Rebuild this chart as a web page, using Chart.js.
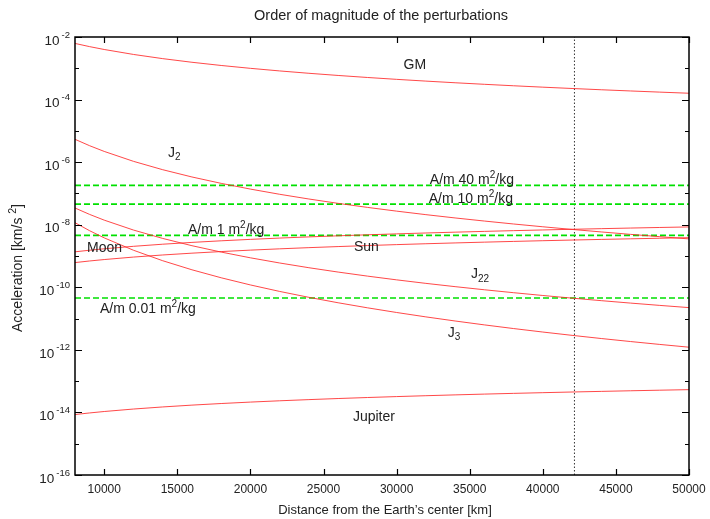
<!DOCTYPE html>
<html>
<head>
<meta charset="utf-8">
<script src="https://cdn.jsdelivr.net/npm/chart.js@4/dist/chart.umd.min.js"></script>
<style>
  html, body { margin: 0; padding: 0; background: #fff; }
  #c { display: block; }
</style>
</head>
<body>
<canvas id="c" width="710" height="519"></canvas>
<script>
// ---- Data ----
const distanceKm = [8000, 9000, 10000, 12000, 14000, 16000, 18000, 20000, 22000, 24000, 26000,
  28000, 30000, 32000, 34000, 36000, 38000, 40000, 42000, 44000, 46000, 48000, 50000];

const accGM = [6.228e-3, 4.921e-3, 3.986e-3, 2.768e-3, 2.034e-3, 1.557e-3, 1.230e-3, 9.965e-4, 8.236e-4,
  6.920e-4, 5.896e-4, 5.084e-4, 4.429e-4, 3.893e-4, 3.448e-4, 3.076e-4, 2.760e-4, 2.491e-4, 2.260e-4,
  2.059e-4, 1.884e-4, 1.730e-4, 1.594e-4];

const accJ2 = [5.37e-6, 3.353e-6, 2.2e-6, 1.061e-6, 5.727e-7, 3.357e-7, 2.096e-7, 1.375e-7, 9.391e-8,
  6.631e-8, 4.814e-8, 3.579e-8, 2.716e-8, 2.098e-8, 1.646e-8, 1.310e-8, 1.055e-8, 8.594e-9, 7.070e-9,
  5.870e-9, 4.913e-9, 4.144e-9, 3.520e-9];

const accJ22 = [3.418e-8, 2.134e-8, 1.4e-8, 6.752e-9, 3.644e-9, 2.136e-9, 1.334e-9, 8.75e-10, 5.976e-10,
  4.220e-10, 3.064e-10, 2.278e-10, 1.728e-10, 1.335e-10, 1.048e-10, 8.335e-11, 6.714e-11, 5.469e-11,
  4.499e-11, 3.735e-11, 3.127e-11, 2.637e-11, 2.240e-11];

const accJ3 = [1.160e-8, 6.435e-9, 3.8e-9, 1.527e-9, 7.065e-10, 3.624e-10, 2.011e-10, 1.1875e-10, 7.373e-11,
  4.772e-11, 3.198e-11, 2.208e-11, 1.564e-11, 1.1325e-11, 8.364e-12, 6.284e-12, 4.796e-12, 3.711e-12,
  2.908e-12, 2.304e-12, 1.845e-12, 1.491e-12, 1.216e-12];

const accMoon = [1.36e-9, 1.53e-9, 1.7e-9, 2.04e-9, 2.38e-9, 2.72e-9, 3.06e-9, 3.4e-9, 3.74e-9, 4.08e-9,
  4.42e-9, 4.76e-9, 5.1e-9, 5.44e-9, 5.78e-9, 6.12e-9, 6.46e-9, 6.8e-9, 7.14e-9, 7.48e-9, 7.82e-9,
  8.16e-9, 8.5e-9];

const accSun = [6.16e-10, 6.93e-10, 7.7e-10, 9.24e-10, 1.078e-9, 1.232e-9, 1.386e-9, 1.54e-9, 1.694e-9,
  1.848e-9, 2.002e-9, 2.156e-9, 2.31e-9, 2.464e-9, 2.618e-9, 2.772e-9, 2.926e-9, 3.08e-9, 3.234e-9,
  3.388e-9, 3.542e-9, 3.696e-9, 3.85e-9];

const accJupiter = [8.56e-15, 9.63e-15, 1.07e-14, 1.284e-14, 1.498e-14, 1.712e-14, 1.926e-14, 2.14e-14,
  2.354e-14, 2.568e-14, 2.782e-14, 2.996e-14, 3.21e-14, 3.424e-14, 3.638e-14, 3.852e-14, 4.066e-14,
  4.28e-14, 4.494e-14, 4.708e-14, 4.922e-14, 5.136e-14, 5.35e-14];

// Solar radiation pressure levels for several area-to-mass ratios
const srpAreaToMass = [40, 10, 1, 0.01];          // m^2/kg
const srpAcc = [1.82e-7, 4.55e-8, 4.55e-9, 4.55e-11]; // km/s^2

const geoRadiusKm = 42164;

const xTickValues = [10000, 15000, 20000, 25000, 30000, 35000, 40000, 45000, 50000];
const yTickExponents = [-2, -4, -6, -8, -10, -12, -14, -16];
const yMinorExponents = [-3, -5, -7, -9, -11, -13, -15];
const xMin = 8000, xMax = 50000, yMin = 1e-16, yMax = 1e-2;

// ---- Build datasets ----
const toXY = (vals) => vals.map((v, i) => ({ x: distanceKm[i], y: v }));
const redLine = (label, vals) => ({
  label, data: toXY(vals), borderColor: 'rgba(255,40,40,0.85)', borderWidth: 1,
  pointRadius: 0, fill: false, tension: 0
});
const datasets = [
  redLine('GM', accGM),
  redLine('J2', accJ2),
  redLine('J22', accJ22),
  redLine('J3', accJ3),
  redLine('Moon', accMoon),
  redLine('Sun', accSun),
  redLine('Jupiter', accJupiter),
];
srpAcc.forEach((a, i) => {
  datasets.push({
    label: 'A/m ' + srpAreaToMass[i],
    data: [{ x: xMin, y: a }, { x: xMax, y: a }],
    borderColor: '#00e000', borderWidth: 1.7, borderDash: [6, 3],
    pointRadius: 0, fill: false
  });
});
datasets.push({
  label: 'GEO',
  data: [{ x: geoRadiusKm, y: yMin }, { x: geoRadiusKm, y: yMax }],
  borderColor: '#333', borderWidth: 1, borderDash: [1.5, 2],
  pointRadius: 0, fill: false
});

// ---- Annotation labels (anchored in data space) ----
const FONT = '"Liberation Sans", Arial, sans-serif';
const annotations = [
  { x: 31250, y: 1.3e-3, align: 'center', parts: [{ t: 'GM' }] },
  { x: 14360, y: 2.0e-6, parts: [{ t: 'J' }, { t: '2', sub: true }] },
  { x: 32270, y: 2.57e-7, parts: [{ t: 'A/m 40 m' }, { t: '2', sup: true }, { t: '/kg' }] },
  { x: 32200, y: 6.35e-8, parts: [{ t: 'A/m 10 m' }, { t: '2', sup: true }, { t: '/kg' }] },
  { x: 15730, y: 6.5e-9, parts: [{ t: 'A/m 1 m' }, { t: '2', sup: true }, { t: '/kg' }] },
  { x: 8820, y: 1.73e-9, parts: [{ t: 'Moon' }] },
  { x: 27080, y: 1.86e-9, parts: [{ t: 'Sun' }] },
  { x: 35080, y: 2.57e-10, parts: [{ t: 'J' }, { t: '22', sub: true }] },
  { x: 9710, y: 1.95e-11, parts: [{ t: 'A/m 0.01 m' }, { t: '2', sup: true }, { t: '/kg' }] },
  { x: 33500, y: 3.39e-12, parts: [{ t: 'J' }, { t: '3', sub: true }] },
  { x: 27010, y: 6.9e-15, parts: [{ t: 'Jupiter' }] },
];

function richWidth(ctx, parts, size, small) {
  let w = 0;
  parts.forEach(p => {
    ctx.font = ((p.sup || p.sub) ? small : size) + 'px ' + FONT;
    w += ctx.measureText(p.t).width;
  });
  return w;
}
function drawRich(ctx, x, y, parts, size, small, align) {
  const w = richWidth(ctx, parts, size, small);
  let cx = align === 'center' ? x - w / 2 : (align === 'right' ? x - w : x);
  ctx.textBaseline = 'middle';
  ctx.textAlign = 'left';
  parts.forEach(p => {
    const s = (p.sup || p.sub) ? small : size;
    ctx.font = s + 'px ' + FONT;
    let dy = 0;
    if (p.sup) dy = -size * 0.38;
    if (p.sub) dy = size * 0.32;
    ctx.fillText(p.t, cx, y + dy);
    cx += ctx.measureText(p.t).width;
  });
}

const framePlugin = {
  id: 'frame',
  afterDraw(chart) {
    const ctx = chart.ctx;
    const a = chart.chartArea;
    const xs = chart.scales.x, ys = chart.scales.y;
    ctx.save();
    ctx.fillStyle = '#222';
    ctx.strokeStyle = '#000';
    ctx.lineWidth = 1.5;
    ctx.strokeRect(a.left, a.top, a.right - a.left, a.bottom - a.top);

    // ticks (inward, mirrored)
    ctx.lineWidth = 1.2;
    ctx.beginPath();
    xTickValues.forEach(v => {
      const px = Math.round(xs.getPixelForValue(v)) + 0.5;
      ctx.moveTo(px, a.bottom); ctx.lineTo(px, a.bottom - 6);
      ctx.moveTo(px, a.top); ctx.lineTo(px, a.top + 6);
    });
    yTickExponents.forEach(e => {
      const py = Math.round(ys.getPixelForValue(Math.pow(10, e))) + 0.5;
      ctx.moveTo(a.left, py); ctx.lineTo(a.left + 7, py);
      ctx.moveTo(a.right, py); ctx.lineTo(a.right - 7, py);
    });
    yMinorExponents.forEach(e => {
      const py = Math.round(ys.getPixelForValue(Math.pow(10, e))) + 0.5;
      ctx.moveTo(a.left, py); ctx.lineTo(a.left + 4, py);
      ctx.moveTo(a.right, py); ctx.lineTo(a.right - 4, py);
    });
    ctx.stroke();

    // x tick labels
    ctx.font = '12px ' + FONT;
    ctx.textAlign = 'center';
    ctx.textBaseline = 'middle';
    xTickValues.forEach(v => {
      ctx.fillText(String(v), xs.getPixelForValue(v), a.bottom + 15);
    });
    // y tick labels 10^e
    yTickExponents.forEach(e => {
      const py = ys.getPixelForValue(Math.pow(10, e));
      ctx.font = '9.5px ' + FONT;
      const ew = ctx.measureText(String(e)).width;
      const ex = a.left - 5 - ew;
      ctx.textAlign = 'left';
      ctx.fillText(String(e), ex, py - 2);
      ctx.font = '13.5px ' + FONT;
      ctx.textAlign = 'right';
      ctx.fillText('10', ex - 2, py + 4);
    });

    // title
    ctx.textAlign = 'center';
    ctx.font = '14.5px ' + FONT;
    ctx.fillText('Order of magnitude of the perturbations', 381, 16);
    // x title
    ctx.font = '13px ' + FONT;
    ctx.fillText('Distance from the Earth\u2019s center [km]', 385, 510);
    // y title
    ctx.save();
    ctx.translate(18, 268);
    ctx.rotate(-Math.PI / 2);
    drawRich(ctx, 0, 0, [{ t: 'Acceleration [km/s ' }, { t: '2', sup: true }, { t: ']' }], 14, 10.5, 'center');
    ctx.restore();

    // annotations
    annotations.forEach(an => {
      drawRich(ctx, xs.getPixelForValue(an.x), ys.getPixelForValue(an.y), an.parts, 14, 10, an.align || 'left');
    });
    ctx.restore();
  }
};

new Chart(document.getElementById('c'), {
  type: 'line',
  data: { datasets },
  options: {
    responsive: false,
    animation: false,
    devicePixelRatio: 1,
    parsing: true,
    layout: { padding: { left: 75, right: 21, top: 37, bottom: 44 } },
    plugins: { legend: { display: false }, tooltip: { enabled: false }, title: { display: false } },
    scales: {
      x: { type: 'linear', min: xMin, max: xMax, display: false },
      y: { type: 'logarithmic', min: yMin, max: yMax, display: false }
    }
  },
  plugins: [framePlugin]
});
</script>
</body>
</html>
